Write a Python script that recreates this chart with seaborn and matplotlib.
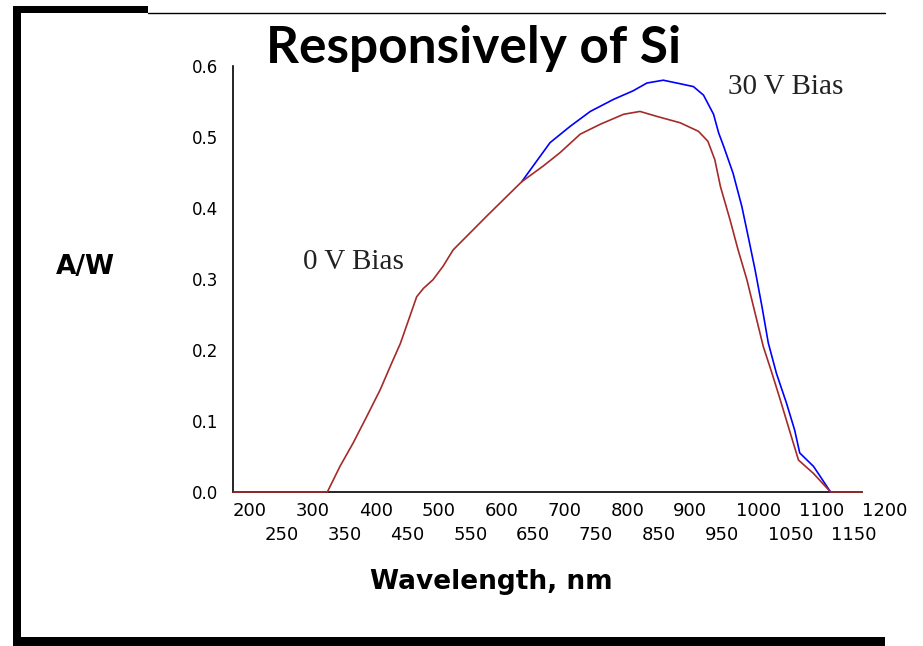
import numpy as np
import pandas as pd
import matplotlib
matplotlib.use("Agg")
import matplotlib.pyplot as plt
from matplotlib.patches import Rectangle
from matplotlib.lines import Line2D
import seaborn as sns

# ---- data ----
wl_0v = [200, 350, 370, 391, 413, 434, 452, 466, 481, 492, 503, 518, 534, 550, 605,
         659, 693, 720, 752, 784, 821, 847, 874, 911, 940, 955, 966, 975, 990, 1003,
         1017, 1030, 1043, 1057, 1070, 1086, 1099, 1123, 1150, 1200]
aw_0v = [0.0, 0.0, 0.036, 0.069, 0.107, 0.144, 0.181, 0.209, 0.247, 0.275, 0.287, 0.299,
         0.318, 0.341, 0.390, 0.437, 0.459, 0.478, 0.504, 0.518, 0.532, 0.536, 0.529,
         0.520, 0.508, 0.494, 0.468, 0.430, 0.384, 0.341, 0.299, 0.252, 0.205, 0.167,
         0.130, 0.083, 0.045, 0.026, 0.0, 0.0]

wl_30v = [659, 677, 704, 736, 768, 805, 836, 858, 884, 911, 932, 948, 964, 972, 980,
          995, 1009, 1019, 1030, 1041, 1051, 1064, 1080, 1093, 1101, 1123, 1150]
aw_30v = [0.437, 0.459, 0.492, 0.515, 0.536, 0.553, 0.565, 0.576, 0.580, 0.575, 0.571,
          0.559, 0.532, 0.506, 0.487, 0.449, 0.402, 0.360, 0.313, 0.261, 0.210, 0.167,
          0.125, 0.087, 0.055, 0.036, 0.0]

x_major = [200, 300, 400, 500, 600, 700, 800, 900, 1000, 1100, 1200]
x_minor = [250, 350, 450, 550, 650, 750, 850, 950, 1050, 1150]
y_ticks = [0.0, 0.1, 0.2, 0.3, 0.4, 0.5, 0.6]

title = "Responsively of Si"
xlabel = "Wavelength, nm"
ylabel = "A/W"
label_30v = "30 V Bias"
label_0v = "0 V Bias"

# ---- figure ----
sns.set_theme(style="white")
plt.rcParams["font.family"] = ["DejaVu Sans"]

W, H = 923, 646
fig = plt.figure(figsize=(W / 100, H / 100), dpi=100)
fig.patch.set_facecolor("white")
ax = fig.add_axes([233 / W, 1 - 492 / H, 629 / W, 426 / H])
ax.set_facecolor("white")

df30 = pd.DataFrame({"nm": wl_30v, "aw": aw_30v})
df0 = pd.DataFrame({"nm": wl_0v, "aw": aw_0v})
sns.lineplot(data=df30, x="nm", y="aw", color="#0000ff", linewidth=1.2, ax=ax,
             estimator=None, sort=False)
sns.lineplot(data=df0, x="nm", y="aw", color="#a52a2a", linewidth=1.2, ax=ax,
             estimator=None, sort=False)
for ln in ax.lines:
    ln.set_clip_on(False)
    ln.set_zorder(3)

ax.set_xlim(200, 1200)
ax.set_ylim(0, 0.6)

for s in ["top", "right"]:
    ax.spines[s].set_visible(False)
for s in ["left", "bottom"]:
    ax.spines[s].set_color("black")
    ax.spines[s].set_linewidth(1.2)

ax.set_xticks(x_major, labels=[str(v) for v in x_major])
ax.set_xticks(x_minor, labels=[str(v) for v in x_minor], minor=True)
ax.set_yticks(y_ticks, labels=[f"{v:.1f}" for v in y_ticks])
ax.tick_params(axis="x", which="both", direction="inout", length=11, width=1.2,
               color="black", labelsize=13, labelcolor="black")
ax.tick_params(axis="x", which="major", pad=1.5)
ax.tick_params(axis="x", which="minor", pad=19)
ax.tick_params(axis="y", direction="inout", length=9.5, width=1.2, color="black",
               labelsize=12, pad=6, labelcolor="black")
for lab in ax.get_xticklabels(which="both"):
    lab.set_horizontalalignment("left")
ax.grid(False)

ax.set_xlabel(xlabel, fontsize=19, fontweight="bold", color="black")
ax.xaxis.set_label_coords(0.41, -0.211)
ax.xaxis.label.set_va("center")
ax.set_ylabel(ylabel, fontsize=19, fontweight="bold", rotation=0, color="black")
ax.yaxis.set_label_coords(-0.235, 0.528)
ax.yaxis.label.set_va("center")
ax.yaxis.label.set_ha("center")

ax.text(987, 0.570, label_30v, ha="left", va="center", fontsize=21,
        family=["Liberation Serif"], color="#222222")
ax.text(311, 0.324, label_0v, ha="left", va="center", fontsize=21,
        family=["Liberation Serif"], color="#222222")

fig.text(474 / W, 1 - 63 / H, title, ha="center", va="baseline", fontsize=37,
         fontweight="bold", family=["Lato", "DejaVu Sans"], color="black")

# ---- frame ----
tf = fig.transFigure
fig.add_artist(Rectangle((13 / W, 0), 8 / W, (H - 6) / H, transform=tf,
                         facecolor="black", edgecolor="none"))
fig.add_artist(Rectangle((13 / W, 1 - 12.5 / H), 135 / W, 6.5 / H, transform=tf,
                         facecolor="black", edgecolor="none"))
fig.add_artist(Line2D([148 / W, 885 / W], [1 - 12.5 / H, 1 - 12.5 / H], transform=tf,
                      color="black", linewidth=1.0))
fig.add_artist(Rectangle((13 / W, 0), 872 / W, 9.5 / H, transform=tf,
                         facecolor="black", edgecolor="none"))

fig.savefig("out.png", dpi=100, facecolor="white")
